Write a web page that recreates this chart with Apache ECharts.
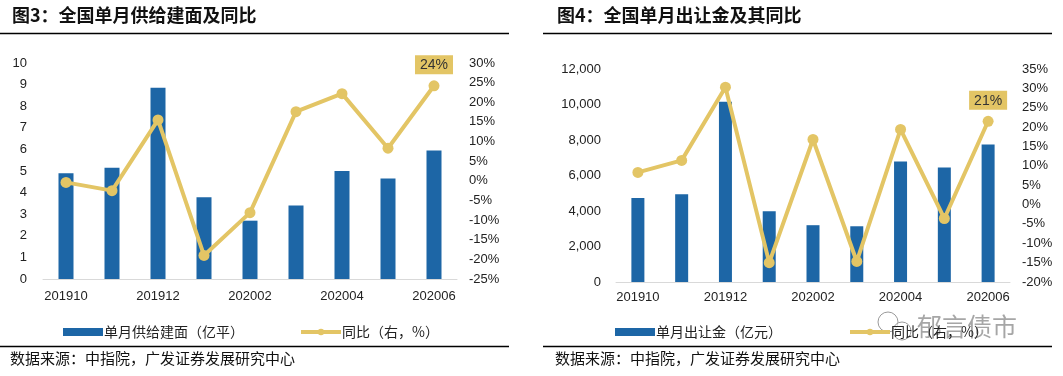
<!DOCTYPE html>
<html>
<head>
<meta charset="utf-8">
<script src="https://cdn.jsdelivr.net/npm/echarts@6/dist/echarts.min.js"></script>
<style>
html,body{margin:0;padding:0;background:#fff;}
#main{width:1063px;height:376px;}
</style>
</head>
<body>
<div id="main"></div>
<script>
// 月份
var months = ['201910','201911','201912','202001','202002','202003','202004','202005','202006'];
// 图3 单月供给建面（亿平）及同比
var supplyArea = [4.9, 5.15, 8.85, 3.78, 2.7, 3.4, 5.0, 4.65, 5.95];
var supplyYoy = [-0.4, -2.5, 15.5, -19.0, -8.1, 17.6, 22.2, 8.3, 24.2];
// 图4 单月出让金（亿元）及同比
var landRevenue = [4730, 4940, 10150, 3980, 3200, 3140, 6790, 6450, 7740];
var landYoy = [8.3, 11.4, 30.3, -15.0, 16.8, -14.7, 19.4, -3.6, 21.5];

var BLUE = '#1d66a6', GOLD = '#e3c565';
var cn = '"Noto Sans CJK SC", sans-serif';
var num = '"Liberation Sans", Arial, sans-serif';

function lastLabel(txt) {
    return {
        show: true, position: 'top', distance: 6,
        formatter: txt, color: '#333', fontSize: 14, fontFamily: num,
        backgroundColor: GOLD, padding: [3, 5, 2, 5]
    };
}
function lineData(arr, txt) {
    return arr.map(function(v, i) {
        if (i == arr.length - 1) return {value: v, label: lastLabel(txt)};
        return v;
    });
}
var axisLab = {color: '#222', fontSize: 13, fontFamily: num};
var legendLine = {color: GOLD, width: 4};

var myChart = echarts.init(document.getElementById('main'));
var options = {
    animation: false,
    grid: [
        {left: 43, top: 63, width: 414, height: 216},
        {left: 616, top: 69, width: 394, height: 213}
    ],
    xAxis: [
        {type: 'category', gridIndex: 0, data: months,
         axisLine: {lineStyle: {color: '#d9d9d9'}}, axisTick: {show: false},
         axisLabel: Object.assign({interval: 1, margin: 11}, axisLab)},
        {type: 'category', gridIndex: 1, data: months,
         axisLine: {lineStyle: {color: '#d9d9d9'}}, axisTick: {show: false},
         axisLabel: Object.assign({interval: 1, margin: 9}, axisLab)}
    ],
    yAxis: [
        {type: 'value', gridIndex: 0, min: 0, max: 10, interval: 1,
         splitLine: {show: false}, axisLabel: Object.assign({margin: 16}, axisLab)},
        {type: 'value', gridIndex: 0, min: -25, max: 30, interval: 5, position: 'right',
         splitLine: {show: false},
         axisLabel: Object.assign({margin: 12, formatter: '{value}%'}, axisLab)},
        {type: 'value', gridIndex: 1, min: 0, max: 12000, interval: 2000,
         splitLine: {show: false},
         axisLabel: Object.assign({margin: 15, formatter: function(v) { return v.toLocaleString('en-US'); }}, axisLab)},
        {type: 'value', gridIndex: 1, min: -20, max: 35, interval: 5, position: 'right',
         splitLine: {show: false},
         axisLabel: Object.assign({margin: 12, formatter: '{value}%'}, axisLab)}
    ],
    legend: [
        {left: 58, top: 320, itemWidth: 40, itemHeight: 8, itemGap: 55,
         textStyle: {fontFamily: cn, fontSize: 14, color: '#222', padding: [0, 0, 0, -4]},
         data: [{name: '单月供给建面（亿平）', icon: 'rect'},
                {name: '同比（右，%）', lineStyle: legendLine}]},
        {left: 610, top: 320, itemWidth: 40, itemHeight: 8, itemGap: 66,
         textStyle: {fontFamily: cn, fontSize: 14, color: '#222', padding: [0, 0, 0, -4]},
         data: [{name: '单月出让金（亿元）', icon: 'rect'},
                {name: '同比（右，%） ', lineStyle: legendLine}]}
    ],
    series: [
        {name: '单月供给建面（亿平）', type: 'bar', xAxisIndex: 0, yAxisIndex: 0,
         data: supplyArea, barWidth: 15, itemStyle: {color: BLUE}},
        {name: '同比（右，%）', type: 'line', xAxisIndex: 0, yAxisIndex: 1,
         data: lineData(supplyYoy, '24%'), symbol: 'circle', symbolSize: 11,
         lineStyle: {color: GOLD, width: 4}, itemStyle: {color: GOLD}},
        {name: '单月出让金（亿元）', type: 'bar', xAxisIndex: 1, yAxisIndex: 2,
         data: landRevenue, barWidth: 13, itemStyle: {color: BLUE}},
        {name: '同比（右，%） ', type: 'line', xAxisIndex: 1, yAxisIndex: 3,
         data: lineData(landYoy, '21%'), symbol: 'circle', symbolSize: 11,
         lineStyle: {color: GOLD, width: 4}, itemStyle: {color: GOLD}}
    ],
    graphic: [
        {type: 'text', left: 12, top: 6, style: {text: '图3：全国单月供给建面及同比', fontFamily: cn, fontSize: 18, fontWeight: 'bold', fill: '#111'}},
        {type: 'line', shape: {x1: 0, y1: 33.5, x2: 509, y2: 33.5}, style: {stroke: '#000', lineWidth: 1.5}},
        {type: 'text', left: 557, top: 6, style: {text: '图4：全国单月出让金及其同比', fontFamily: cn, fontSize: 18, fontWeight: 'bold', fill: '#111'}},
        {type: 'line', shape: {x1: 543, y1: 33.5, x2: 1052, y2: 33.5}, style: {stroke: '#000', lineWidth: 1.5}},
        {type: 'line', shape: {x1: 0, y1: 346.5, x2: 509, y2: 346.5}, style: {stroke: '#000', lineWidth: 1.5}},
        {type: 'line', shape: {x1: 543, y1: 346.5, x2: 1052, y2: 346.5}, style: {stroke: '#000', lineWidth: 1.5}},
        {type: 'text', left: 10, top: 351, style: {text: '数据来源：中指院，广发证券发展研究中心', fontFamily: cn, fontSize: 15, fill: '#111'}},
        {type: 'text', left: 555, top: 351, style: {text: '数据来源：中指院，广发证券发展研究中心', fontFamily: cn, fontSize: 15, fill: '#111'}},
        // 水印
        {type: 'circle', shape: {cx: 888, cy: 322, r: 10}, style: {fill: 'rgba(255,255,255,0.6)', stroke: '#999', lineWidth: 1}},
        {type: 'circle', shape: {cx: 902, cy: 331, r: 9}, style: {fill: 'rgba(255,255,255,0.6)', stroke: '#999', lineWidth: 1}},
        {type: 'text', left: 916, top: 313, style: {text: '郁言债市', fontFamily: cn, fontSize: 25, fill: 'rgba(150,150,150,0.85)', stroke: '#fff', lineWidth: 2}}
    ]
};
myChart.setOption(options);
</script>
</body>
</html>
